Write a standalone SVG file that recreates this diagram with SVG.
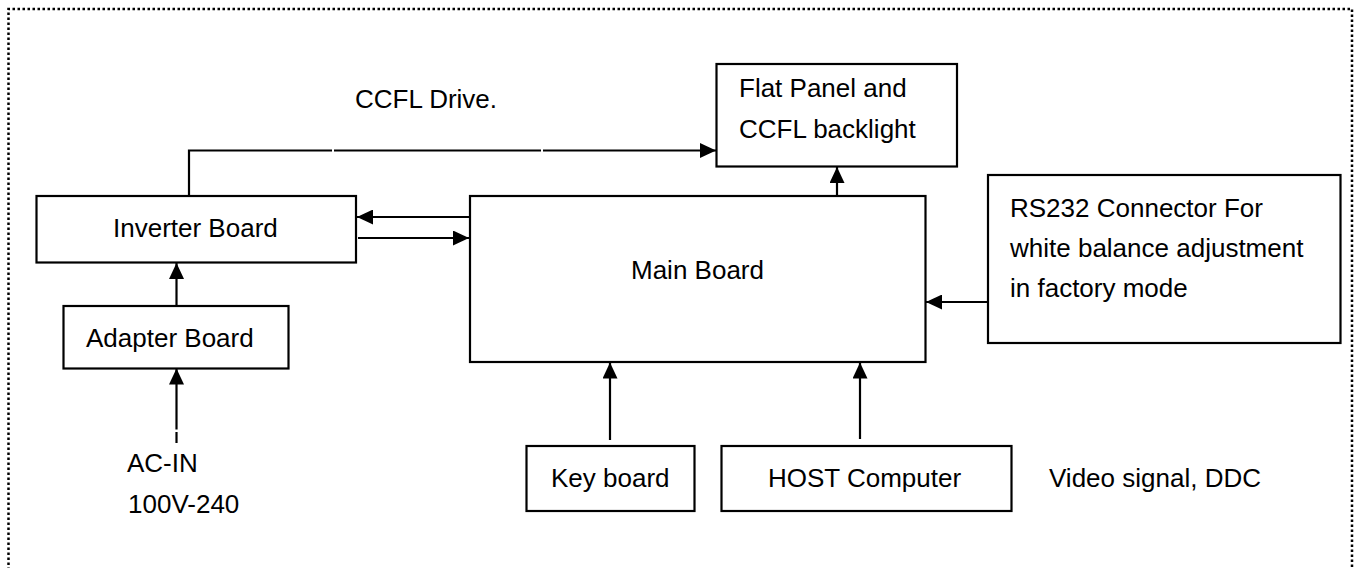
<svg xmlns="http://www.w3.org/2000/svg" width="1357" height="568" viewBox="0 0 1357 568">
<defs>
<style>
.box{fill:#fff;stroke:#000;stroke-width:2.2}
.ln{fill:none;stroke:#000;stroke-width:2.2}
.t{font-family:"Liberation Sans",Arial,sans-serif;font-size:26px;fill:#000}
</style>
<marker id="ah" markerUnits="userSpaceOnUse" markerWidth="16" markerHeight="15" refX="16" refY="7.5" orient="auto">
<path d="M0,0 L16,7.5 L0,15 z" fill="#000"/>
</marker>
</defs>
<rect width="1357" height="568" fill="#fff"/>
<path d="M8.5,600 L8.5,9 L1352,9 L1352,600" fill="none" stroke="#000" stroke-width="2.5" stroke-dasharray="2.5 2.5"/>

<g id="connectors">
<path class="ln" d="M189,196 L189,150.5 L332,150.5"/>
<path class="ln" d="M334,150.5 L541,150.5"/>
<path class="ln" d="M543,150.5 L716,150.5" marker-end="url(#ah)"/>
<path class="ln" d="M837,196 L837,167" marker-end="url(#ah)"/>
<path class="ln" d="M470,217 L357,217" marker-end="url(#ah)"/>
<path class="ln" d="M358,238 L469,238" marker-end="url(#ah)"/>
<path class="ln" d="M176.5,306 L176.5,263" marker-end="url(#ah)"/>
<path class="ln" d="M176.5,443 L176.5,432"/>
<path class="ln" d="M176.5,429.5 L176.5,368.5" marker-end="url(#ah)"/>
<path class="ln" d="M988,302 L926,302" marker-end="url(#ah)"/>
<path class="ln" d="M610,440 L610,362.5" marker-end="url(#ah)"/>
<path class="ln" d="M860,439 L860,362.5" marker-end="url(#ah)"/>
</g>

<g id="flat-panel">
<rect class="box" x="716.5" y="64" width="240.5" height="102.5"/>
<text class="t" x="739" y="97">Flat Panel and</text>
<text class="t" x="739" y="138">CCFL backlight</text>
</g>
<g id="inverter">
<rect class="box" x="36.5" y="196" width="319.5" height="66.5"/>
<text class="t" x="113" y="237">Inverter Board</text>
</g>
<g id="main-board">
<rect class="box" x="470" y="196" width="455.5" height="166"/>
<text class="t" x="631" y="279">Main Board</text>
</g>
<g id="rs232">
<rect class="box" x="988" y="175" width="352.5" height="168"/>
<text class="t" x="1010" y="217">RS232 Connector For</text>
<text class="t" x="1010" y="257">white balance adjustment</text>
<text class="t" x="1010" y="297">in factory mode</text>
</g>
<g id="adapter">
<rect class="box" x="63.5" y="306" width="225" height="62.5"/>
<text class="t" x="86" y="347">Adapter Board</text>
</g>
<g id="keyboard">
<rect class="box" x="526.5" y="446" width="168" height="65"/>
<text class="t" x="551" y="487">Key board</text>
</g>
<g id="host">
<rect class="box" x="721.5" y="446" width="290" height="65"/>
<text class="t" x="768" y="487">HOST Computer</text>
</g>
<g id="labels">
<text class="t" x="355" y="107.5">CCFL Drive.</text>
<text class="t" x="127" y="472">AC-IN</text>
<text class="t" x="128" y="513">100V-240</text>
<text class="t" x="1049" y="487">Video signal, DDC</text>
</g>
</svg>
